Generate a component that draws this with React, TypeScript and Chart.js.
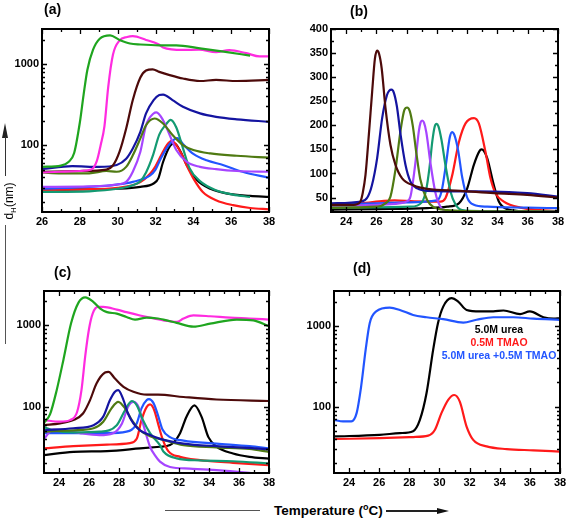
import React, { useEffect, useRef } from 'react';
import { Chart, registerables } from 'chart.js';
Chart.register(...registerables);

type Pt = [number, number];

const FONT = '"Liberation Sans", Arial, Helvetica, sans-serif';
Chart.defaults.font.family = FONT;

// ---------- colours ----------
const GREEN = '#1fa51f';
const MAGENTA = '#ff2be0';
const BROWN = '#4d0a0a';
const NAVY = '#1414a0';
const OLIVE = '#4f7a12';
const PURPLE = '#a645ff';
const TEAL = '#139a72';
const BLUE = '#2255ff';
const RED = '#ff1a1a';
const BLACK = '#000000';

// ---------- tick labels ----------
const xTicksA = [26, 28, 30, 32, 34, 36, 38];
const xTicksBCD = [24, 26, 28, 30, 32, 34, 36, 38];
const logTicks = [100, 1000];
const linTicksB = [50, 100, 150, 200, 250, 300, 350, 400];

// ---------- panel (a) data : temperature, dH ----------
const aGreen: Pt[] = [[26, 54], [27, 56], [27.4, 62], [27.7, 80], [28.0, 190], [28.2, 420], [28.4, 850], [28.7, 1500], [29.05, 2050], [29.6, 2250], [30.1, 1980], [30.65, 1790], [31.2, 1740], [32.2, 1700], [33.1, 1700], [34.35, 1560], [35.6, 1420], [37.0, 1270]];
const aMagenta: Pt[] = [[26, 46], [27, 47], [28, 48], [28.6, 50], [28.9, 64], [29.1, 100], [29.3, 170], [29.5, 520], [29.75, 1300], [30.1, 1950], [30.5, 2150], [30.8, 2200], [31.5, 1980], [32.15, 1750], [32.4, 1600], [33.45, 1490], [34.3, 1500], [35.2, 1400], [35.9, 1480], [36.8, 1360], [37.5, 1240], [38, 1240]];
const aBrown: Pt[] = [[26, 47], [28, 48], [29.4, 50], [29.77, 57], [30.1, 83], [30.45, 160], [30.8, 360], [31.2, 680], [31.5, 830], [31.85, 860], [32.2, 800], [32.75, 730], [33.45, 662], [34.35, 617], [35.2, 636], [36.3, 617], [38, 636]];
const aNavy: Pt[] = [[26, 51], [27.6, 55], [29, 54], [29.95, 57], [30.45, 68], [30.8, 91], [31.2, 146], [31.5, 246], [31.9, 359], [32.2, 414], [32.4, 420], [32.9, 359], [33.45, 297], [34.35, 246], [35.2, 223], [36.3, 208], [38, 194]];
const aOlive: Pt[] = [[26, 46], [27, 45], [28.5, 45], [29.4, 48], [29.95, 47], [30.45, 54], [30.8, 75], [31.2, 121], [31.5, 176], [31.95, 213], [32.4, 185], [32.9, 133], [33.45, 100], [34.0, 87], [34.9, 79], [36.3, 74], [38, 70]];
const aPurple: Pt[] = [[26, 30.6], [28.5, 31], [29.95, 32.7], [30.45, 35.3], [30.8, 47], [31.2, 83], [31.5, 176], [31.9, 246], [32.05, 253], [32.4, 203], [32.75, 133], [33.1, 87], [33.65, 62], [34.35, 54], [35.2, 50.6], [36.3, 48], [38, 47]];
const aTeal: Pt[] = [[26, 26.5], [28.5, 27], [30, 29], [30.8, 32], [31.2, 36], [31.5, 46], [31.85, 73], [32.2, 135], [32.55, 180], [32.8, 205], [33.1, 165], [33.45, 92], [33.8, 52], [34.35, 36], [35.2, 27.8], [36.1, 24.6], [37.0, 23]];
const aBlue: Pt[] = [[26, 29.2], [28.5, 30.6], [29.95, 32.7], [30.8, 35.3], [31.7, 42], [32.0, 50], [32.3, 70], [32.77, 105], [33.15, 122], [33.5, 100], [34.0, 78], [34.7, 65], [35.6, 56.6], [36.6, 47], [38, 39.5]];
const aRed: Pt[] = [[26, 27.8], [28, 28.5], [30, 29.8], [31.2, 35], [31.7, 44], [32.0, 55], [32.3, 75], [32.6, 100], [32.85, 113], [33.1, 100], [33.35, 80], [33.65, 56], [34.0, 39], [34.5, 26.5], [35.2, 21], [36.1, 18.2], [37.0, 16.8], [38, 16.2]];
const aBlack: Pt[] = [[26, 27.8], [28, 28.5], [30, 29], [31.2, 30.6], [31.9, 33.7], [32.15, 39], [32.4, 62], [32.77, 98], [33.0, 105], [33.3, 85], [33.65, 57], [34.2, 37], [34.9, 29], [35.8, 25.3], [37.0, 23.7], [38, 23]];

// ---------- panel (b) data ----------
const bBrown: Pt[] = [[23, 35], [24.5, 35], [24.7, 36], [24.95, 42], [25.1, 60], [25.28, 97], [25.5, 180], [25.72, 270], [25.9, 338], [26.05, 355], [26.18, 348], [26.35, 318], [26.6, 236], [26.93, 159], [27.26, 118], [27.7, 90], [28.47, 75], [29.35, 68], [31.55, 64], [33.76, 59], [35.96, 55.5], [38, 50]];
const bNavy: Pt[] = [[23, 38], [25, 41.7], [25.4, 50], [25.7, 75], [26.05, 132], [26.38, 215], [26.7, 263], [26.85, 272], [27.0, 274], [27.15, 268], [27.35, 240], [27.6, 180], [27.92, 118], [28.25, 83], [28.7, 69], [29.35, 64], [33.76, 62.5], [35.96, 59], [38, 52]];
const bOlive: Pt[] = [[23, 29], [26.05, 31], [26.6, 38], [26.93, 52], [27.26, 108], [27.6, 190], [27.85, 232], [28.03, 237], [28.2, 230], [28.4, 200], [28.65, 140], [28.9, 88], [29.35, 45], [29.8, 30], [30.67, 24], [32, 22], [38, 21]];
const bPurple: Pt[] = [[23, 33], [26, 35], [27.5, 38], [28.0, 42], [28.25, 52], [28.55, 115], [28.8, 187], [28.92, 206], [29.02, 210], [29.14, 206], [29.3, 185], [29.57, 122], [29.9, 60], [30.23, 31], [30.67, 22], [32, 21], [38, 21]];
const bTeal: Pt[] = [[23, 29], [28.25, 31], [29.0, 40], [29.3, 68], [29.5, 110], [29.7, 168], [29.85, 197], [29.97, 203], [30.1, 198], [30.3, 170], [30.56, 118], [30.9, 62], [31.22, 36], [31.67, 24], [33, 22], [38, 21]];
const bBlue: Pt[] = [[23, 36], [26, 38], [28, 40], [30.0, 44], [30.3, 62], [30.6, 120], [30.85, 175], [31.0, 186], [31.15, 180], [31.4, 148], [31.67, 92], [32.0, 50], [32.44, 35], [33.32, 31], [35.96, 29], [38, 28]];
const bRed: Pt[] = [[23, 35], [25, 38], [26.5, 43], [27.2, 44], [28.5, 42], [29.35, 41.7], [30.23, 41.7], [30.56, 48.6], [31.0, 95], [31.45, 165], [31.89, 204], [32.45, 215], [32.77, 204], [33.2, 146], [33.54, 90], [33.87, 59], [34.42, 41.7], [35.52, 29], [36.84, 24], [38, 22]];
const bBlack: Pt[] = [[23, 25], [26, 26], [29.35, 28], [30.67, 31], [31.45, 38], [32.0, 69], [32.44, 118], [32.8, 146], [32.95, 150], [33.1, 147], [33.32, 132], [33.76, 76], [34.09, 41.7], [34.64, 26], [35.5, 22], [38, 21]];

// ---------- panel (c) data ----------
const cGreen: Pt[] = [[23, 63], [23.4, 80], [23.85, 160], [24.3, 380], [24.8, 1050], [25.3, 1900], [25.75, 2200], [26.3, 1930], [26.75, 1600], [27.2, 1450], [27.85, 1391], [28.5, 1265], [29.07, 1175], [29.85, 1240], [30.6, 1210], [30.96, 1175], [31.85, 1070], [32.96, 960], [34.07, 1045], [35.85, 1175], [36.96, 1150], [38, 970]];
const cPink: Pt[] = [[23, 68], [24.07, 65], [24.73, 68], [25.2, 85], [25.5, 160], [25.75, 420], [26.0, 900], [26.25, 1400], [26.6, 1680], [26.95, 1679], [27.85, 1560], [28.5, 1450], [29.4, 1320], [30.07, 1240], [30.96, 1151], [31.85, 1100], [32.3, 1210], [32.96, 1320], [34.07, 1290], [35.4, 1240], [36.7, 1210], [38, 1175]];
const cBrown: Pt[] = [[23, 59], [24.07, 62], [24.96, 68], [25.6, 82], [26.07, 120], [26.5, 192], [27.07, 262], [27.3, 267], [27.73, 221], [28.3, 175], [28.96, 152], [29.85, 140], [30.6, 140], [32.3, 131], [34.5, 122], [38, 117]];
const cNavy: Pt[] = [[23, 51], [24.96, 54], [26.3, 59], [26.95, 75], [27.4, 120], [27.73, 152], [27.95, 159], [28.3, 120], [28.6, 82], [28.96, 62], [29.4, 51], [30.07, 44.5], [30.73, 40], [32.3, 35], [34.5, 32.5], [36.7, 31], [38, 29.7]];
const cOlive: Pt[] = [[23, 49], [24.96, 51], [26.3, 54], [26.95, 65], [27.5, 95], [27.95, 114], [28.4, 95], [28.85, 68], [29.4, 51], [30.07, 43], [30.73, 40], [32.3, 33.5], [34.5, 31.5], [36.7, 30], [38, 27.7]];
const cTeal: Pt[] = [[23, 56], [23.6, 51], [24.96, 48], [26.7, 49], [27.85, 59], [28.4, 90], [28.85, 117], [29.18, 104], [29.6, 68], [30.07, 47], [30.73, 33.5], [30.96, 28], [31.85, 23], [33.4, 21.7], [35.6, 21.2], [38, 19.9]];
const cPurple: Pt[] = [[23, 40], [23.6, 52], [24.3, 51], [25.4, 47], [26.7, 44.5], [27.6, 47], [28.2, 62], [28.6, 99], [28.96, 114], [29.3, 99], [29.6, 62], [30.07, 32], [30.4, 25], [30.73, 21], [31.4, 18], [32.7, 17.2], [34.5, 16.5], [36.3, 15.5], [37, 15]];
const cBlue: Pt[] = [[23, 47], [25, 47], [27.2, 47], [28.5, 49], [29.18, 62], [29.5, 95], [29.85, 120], [30.0, 123], [30.3, 110], [30.6, 78], [30.9, 52], [31.4, 42], [32.3, 38], [34.5, 35], [36.7, 32.5], [38, 30.5]];
const cRed: Pt[] = [[23, 30.5], [24.96, 32.5], [27.2, 34], [28.73, 35.5], [29.18, 40], [29.5, 68], [29.85, 99], [30.07, 106], [30.35, 90], [30.6, 62], [30.9, 40], [31.3, 28], [32.07, 24], [33.4, 21.9], [35.6, 20.3], [38, 19]];
const cBlack: Pt[] = [[23, 25.2], [24.96, 27.7], [27.2, 28.3], [29.4, 30.5], [30.73, 32], [31.4, 33.5], [32.07, 47], [32.5, 75], [33.03, 103], [33.5, 75], [33.96, 42], [34.5, 32], [35.6, 26.4], [36.7, 24], [38, 22.8]];

// ---------- panel (d) data ----------
const dBlue: Pt[] = [[23, 69], [23.6, 66], [24.15, 66], [24.5, 83.5], [24.8, 178], [25.1, 505], [25.37, 1080], [25.8, 1510], [26.7, 1680], [27.37, 1575], [28.25, 1365], [29.14, 1280], [30.25, 1210], [31.58, 1100], [32.46, 1190], [33.57, 1280], [34.9, 1280], [36.23, 1230], [38, 1190]];
const dBlack: Pt[] = [[23, 43], [26.03, 45], [27.37, 47.3], [28.25, 50], [28.7, 69], [29.14, 147], [29.58, 505], [29.9, 1080], [30.25, 1730], [30.8, 2200], [31.24, 2000], [31.8, 1575], [32.7, 1510], [33.57, 1510], [34.25, 1550], [35.35, 1400], [36.0, 1510], [36.9, 1280], [37.56, 1230], [38, 1240]];
const dRed: Pt[] = [[23, 40], [26.03, 41], [28.25, 42.3], [29.25, 44], [29.7, 52], [30.13, 83.5], [30.58, 122], [30.98, 140], [31.35, 116], [31.8, 57], [32.24, 39], [33.13, 32.4], [34.46, 30], [36.23, 29], [38, 28]];

const legendD = [
  { text: '5.0M urea', color: BLACK },
  { text: '0.5M TMAO', color: RED },
  { text: '5.0M urea +0.5M TMAO', color: BLUE },
];

// ---------- layout helpers ----------
const logMinor = [20, 30, 40, 50, 60, 70, 80, 90, 200, 300, 400, 500, 600, 700, 800, 900, 2000];
const odd = (a: number, b: number) => { const r: number[] = []; for (let v = a; v <= b; v += 2) r.push(v); return r; };

interface Spec {
  left: number; top: number; w: number; h: number;
  yAxisW: number; xAxisH: number; padTop: number; padRight: number;
  xMin: number; xMax: number; xTicks: number[]; xMinor: number[];
  yLog: boolean; yMin: number; yMax: number; yTicks: number[]; yMinor: number[];
  series: { data: Pt[]; color: string }[];
}

function makeFrame(spec: Spec) {
  return {
    id: 'frame',
    afterDatasetsDraw(chart: any) {
      const { ctx, chartArea: a, scales } = chart;
      const xs = scales.x, ys = scales.y;
      ctx.save();
      ctx.strokeStyle = '#000';
      ctx.lineWidth = 1.3;
      ctx.beginPath();
      const xt = (v: number, len: number) => {
        const p = Math.round(xs.getPixelForValue(v)) + 0.5;
        ctx.moveTo(p, a.bottom); ctx.lineTo(p, a.bottom - len);
        ctx.moveTo(p, a.top); ctx.lineTo(p, a.top + len);
      };
      const yt = (v: number, len: number) => {
        const p = Math.round(ys.getPixelForValue(v)) + 0.5;
        ctx.moveTo(a.left, p); ctx.lineTo(a.left + len, p);
        ctx.moveTo(a.right, p); ctx.lineTo(a.right - len, p);
      };
      spec.xTicks.forEach((v) => xt(v, 5));
      spec.xMinor.forEach((v) => xt(v, 3));
      spec.yTicks.forEach((v) => yt(v, 5));
      spec.yMinor.forEach((v) => { if (v > spec.yMin && v < spec.yMax) yt(v, 3); });
      ctx.stroke();
      ctx.lineWidth = 2;
      ctx.strokeRect(a.left, a.top, a.right - a.left, a.bottom - a.top);
      ctx.restore();
    },
  };
}

function Panel({ spec }: { spec: Spec }) {
  const ref = useRef<HTMLCanvasElement>(null);
  useEffect(() => {
    const tickFont = { family: FONT, size: 11, weight: 'bold' as const };
    const chart = new Chart(ref.current as HTMLCanvasElement, {
      type: 'line',
      data: {
        datasets: spec.series.map((s) => ({
          data: s.data.map(([x, y]) => ({ x, y })),
          borderColor: s.color,
          backgroundColor: s.color,
          borderWidth: 2.2,
          pointRadius: 0,
          fill: false,
          cubicInterpolationMode: 'monotone' as const,
          tension: 0.4,
        })),
      },
      options: {
        responsive: false,
        maintainAspectRatio: false,
        animation: false,
        events: [],
        layout: { padding: { top: spec.padTop, right: spec.padRight, left: 0, bottom: 0 } },
        plugins: { legend: { display: false }, tooltip: { enabled: false }, title: { display: false } },
        scales: {
          x: {
            type: 'linear',
            min: spec.xMin,
            max: spec.xMax,
            grid: { display: false, drawTicks: false },
            border: { display: false },
            ticks: { font: tickFont, color: '#000', padding: 3, autoSkip: false, maxRotation: 0, callback: (v: any) => String(v) },
            afterBuildTicks: (s: any) => { s.ticks = spec.xTicks.map((v) => ({ value: v })); },
            afterFit: (s: any) => { s.height = spec.xAxisH; s.paddingLeft = 0; s.paddingRight = 0; },
          },
          y: {
            type: spec.yLog ? 'logarithmic' : 'linear',
            min: spec.yMin,
            max: spec.yMax,
            grid: { display: false, drawTicks: false },
            border: { display: false },
            ticks: { font: tickFont, color: '#000', padding: 3, autoSkip: false, callback: (v: any) => String(v) },
            afterBuildTicks: (s: any) => { s.ticks = spec.yTicks.map((v) => ({ value: v })); },
            afterFit: (s: any) => { s.width = spec.yAxisW; s.paddingTop = 0; s.paddingBottom = 0; },
          },
        },
      } as any,
      plugins: [makeFrame(spec)],
    });
    return () => chart.destroy();
  }, []);
  return (
    <canvas
      ref={ref}
      width={spec.w}
      height={spec.h}
      style={{ position: 'absolute', left: spec.left, top: spec.top, width: spec.w, height: spec.h }}
    />
  );
}

const specA: Spec = {
  left: 0, top: 14, w: 280, h: 220, yAxisW: 42, xAxisH: 22, padTop: 15, padRight: 11,
  xMin: 26, xMax: 38, xTicks: xTicksA, xMinor: odd(27, 37),
  yLog: true, yMin: 15, yMax: 2700, yTicks: logTicks, yMinor: logMinor,
  series: [
    { data: aGreen, color: GREEN }, { data: aMagenta, color: MAGENTA }, { data: aBrown, color: BROWN },
    { data: aNavy, color: NAVY }, { data: aOlive, color: OLIVE }, { data: aPurple, color: PURPLE },
    { data: aTeal, color: TEAL }, { data: aBlue, color: BLUE }, { data: aRed, color: RED }, { data: aBlack, color: BLACK },
  ],
};
const specB: Spec = {
  left: 285, top: 14, w: 282, h: 220, yAxisW: 46, xAxisH: 22, padTop: 15, padRight: 9,
  xMin: 23, xMax: 38, xTicks: xTicksBCD, xMinor: odd(25, 37),
  yLog: false, yMin: 20, yMax: 400, yTicks: linTicksB, yMinor: [25, 75, 125, 175, 225, 275, 325, 375],
  series: [
    { data: bBrown, color: BROWN }, { data: bNavy, color: NAVY }, { data: bOlive, color: OLIVE },
    { data: bPurple, color: PURPLE }, { data: bTeal, color: TEAL }, { data: bBlue, color: BLUE },
    { data: bRed, color: RED }, { data: bBlack, color: BLACK },
  ],
};
const specC: Spec = {
  left: 0, top: 276, w: 280, h: 220, yAxisW: 44, xAxisH: 23, padTop: 15, padRight: 11,
  xMin: 23, xMax: 38, xTicks: xTicksBCD, xMinor: odd(25, 37),
  yLog: true, yMin: 15.2, yMax: 2640, yTicks: logTicks, yMinor: logMinor,
  series: [
    { data: cGreen, color: GREEN }, { data: cPink, color: MAGENTA }, { data: cBrown, color: BROWN },
    { data: cNavy, color: NAVY }, { data: cOlive, color: OLIVE }, { data: cTeal, color: TEAL },
    { data: cPurple, color: PURPLE }, { data: cBlue, color: BLUE }, { data: cRed, color: RED }, { data: cBlack, color: BLACK },
  ],
};
const specD: Spec = {
  left: 285, top: 276, w: 282, h: 220, yAxisW: 49, xAxisH: 23, padTop: 15, padRight: 7,
  xMin: 23, xMax: 38, xTicks: xTicksBCD, xMinor: odd(25, 37),
  yLog: true, yMin: 15.2, yMax: 2700, yTicks: logTicks, yMinor: logMinor,
  series: [{ data: dBlue, color: BLUE }, { data: dBlack, color: BLACK }, { data: dRed, color: RED }],
};

const titleStyle = (left: number, top: number): React.CSSProperties => ({
  position: 'absolute', left, top, fontFamily: FONT, fontWeight: 'bold', fontSize: 14, lineHeight: '16px', color: '#000',
});

export default function App() {
  return (
    <div style={{ position: 'absolute', left: 0, top: 0, width: 567, height: 520, background: '#fff', overflow: 'hidden', fontFamily: FONT }}>
      <Panel spec={specA} />
      <Panel spec={specB} />
      <Panel spec={specC} />
      <Panel spec={specD} />

      <div style={titleStyle(44, 1)}>(a)</div>
      <div style={titleStyle(350, 3)}>(b)</div>
      <div style={titleStyle(54, 264)}>(c)</div>
      <div style={titleStyle(353, 260)}>(d)</div>

      {/* legend of (d) */}
      <div style={{ position: 'absolute', left: 430, top: 323, width: 138, textAlign: 'center', fontFamily: FONT, fontWeight: 'bold', fontSize: 10.5, lineHeight: '13px' }}>
        {legendD.map((l) => (
          <div key={l.text} style={{ color: l.color, whiteSpace: 'nowrap' }}>{l.text}</div>
        ))}
      </div>

      {/* vertical axis label */}
      <div style={{ position: 'absolute', left: 2, top: 123, width: 0, height: 0, borderLeft: '3px solid transparent', borderRight: '3px solid transparent', borderBottom: '15px solid #222' }} />
      <div style={{ position: 'absolute', left: 4.5, top: 137, width: 1.5, height: 39, background: '#333' }} />
      <div style={{ position: 'absolute', left: 10, top: 200, width: 0, height: 0 }}>
        <div style={{ position: 'absolute', left: -30, top: -8, width: 60, textAlign: 'center', transform: 'rotate(-90deg)', fontFamily: FONT, fontSize: 12, lineHeight: '16px', color: '#000', whiteSpace: 'nowrap' }}>
          d<span style={{ fontSize: 8, position: 'relative', top: 3 }}>H</span>(nm)
        </div>
      </div>
      <div style={{ position: 'absolute', left: 5, top: 225, width: 1.2, height: 119, background: '#555' }} />

      {/* horizontal axis label */}
      <div style={{ position: 'absolute', left: 165, top: 510, width: 95, height: 1.2, background: '#555' }} />
      <div style={{ position: 'absolute', left: 274, top: 503, fontFamily: FONT, fontWeight: 'bold', fontSize: 13.5, lineHeight: '16px', color: '#000', whiteSpace: 'nowrap' }}>
        Temperature (<span style={{ fontSize: 9, position: 'relative', top: -5 }}>o</span>C)
      </div>
      <div style={{ position: 'absolute', left: 386, top: 510, width: 54, height: 1.5, background: '#222' }} />
      <div style={{ position: 'absolute', left: 437, top: 507.5, width: 0, height: 0, borderTop: '3px solid transparent', borderBottom: '3px solid transparent', borderLeft: '12px solid #111' }} />
    </div>
  );
}
